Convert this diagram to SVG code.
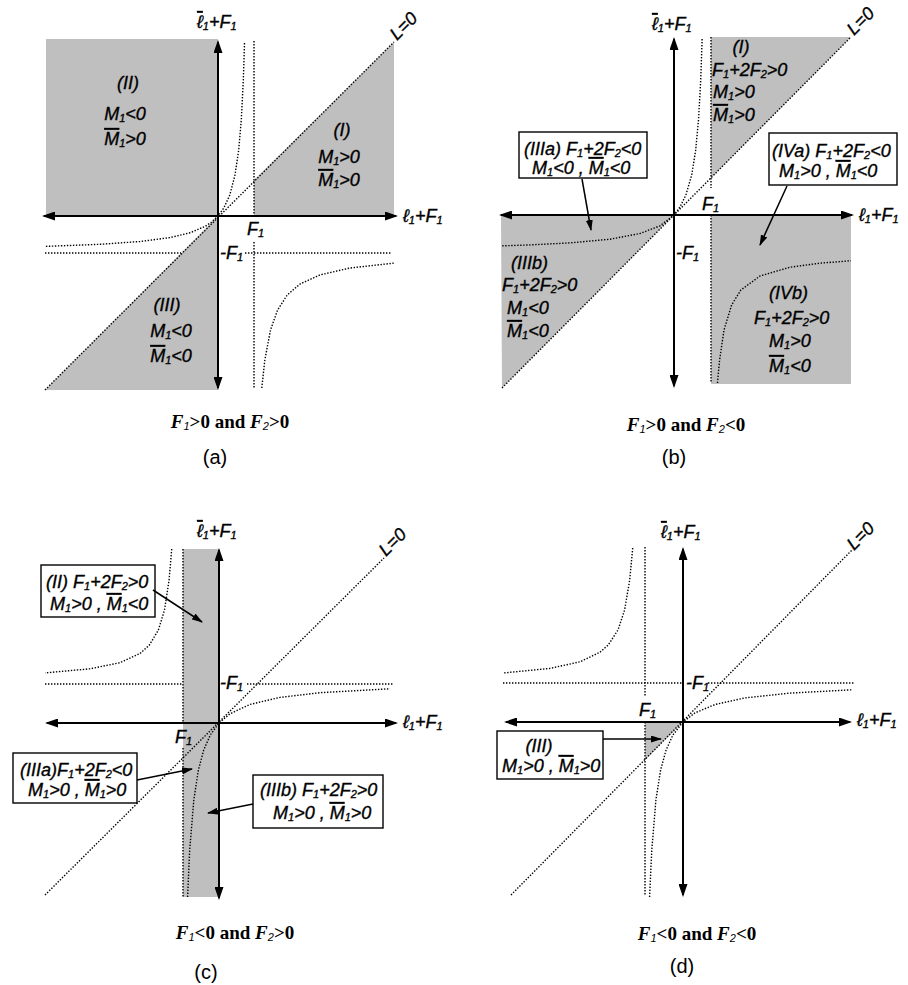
<svg xmlns="http://www.w3.org/2000/svg" width="908" height="985" viewBox="0 0 908 985">
<style>
.bg{fill:#fff}
.g{fill:#bfbfbf;stroke:none}
.ax{stroke:#000;stroke-width:2;fill:none;marker-start:url(#ah);marker-end:url(#ah)}
.d{stroke:#000;stroke-width:1.4;stroke-dasharray:1.4 1.6;fill:none}
.box{fill:#fff;stroke:#000;stroke-width:1.4}
.cn{stroke:#000;stroke-width:1.5;fill:none;marker-end:url(#sa)}
.t{font-family:"Liberation Sans",Arial,sans-serif;font-style:italic;font-size:18px;fill:#000;stroke:#000;stroke-width:0.35px}
.s{font-size:11px}
.o{text-decoration:overline}
.cap{font-family:"Liberation Serif","Times New Roman",serif;font-weight:bold;font-size:19px;fill:#000}
.ci{font-style:italic}
.cs{font-family:"Liberation Sans",Arial,sans-serif;font-style:italic;font-weight:normal;font-size:11px}
.pl{font-family:"Liberation Sans",Arial,sans-serif;font-size:20px;fill:#000}
</style>
<defs>
<marker id="ah" markerUnits="userSpaceOnUse" markerWidth="13" markerHeight="9" refX="11" refY="4.5" orient="auto-start-reverse"><path d="M0,0 L13,4.5 L0,9 z" fill="#000"/></marker>
<marker id="sa" markerUnits="userSpaceOnUse" markerWidth="11" markerHeight="7" refX="10" refY="3.5" orient="auto"><path d="M0,0 L11,3.5 L0,7 z" fill="#000"/></marker>
</defs>
<rect class="bg" x="0" y="0" width="908" height="985"/>

<!-- Panel (a) -->
<g id="panel-a">
  <g id="a-regions">
    <rect class="g" x="46" y="39" width="172" height="177"/>
    <polygon class="g" points="254,180 394,42 394,216 254,216"/>
    <polygon class="g" points="45,390 218,216 218,390"/>
  </g>
  <g id="a-curves">
    <line class="d" x1="45" y1="390" x2="394" y2="42"/>
    <line class="d" x1="254" y1="41" x2="254" y2="216"/>
    <line class="d" x1="254" y1="242" x2="254" y2="388"/>
    <line class="d" x1="45" y1="253" x2="181" y2="253"/>
    <line class="d" x1="245" y1="253" x2="391" y2="253"/>
    <polyline class="d" points="244.5,43 243.3,80 241.3,120 238.7,150 235,175 229.8,195 223.8,208 218,216 211,222.5 205,226.4 190,232.8 170,237.6 140,241.5 100,244.3 45,246.4"/>
    <polyline class="d" points="261.8,388 264.8,360 270.5,330 277.6,310 287.2,295 300,284 320,274.9 350,268 395,263"/>
  </g>
  <g id="a-axes">
    <line class="ax" x1="218" y1="42" x2="218" y2="388"/>
    <line class="ax" x1="44" y1="216" x2="396" y2="216"/>
  </g>
  <g id="a-labels">
    <text class="t" x="197" y="28"><tspan class="o">ℓ</tspan><tspan class="s" dy="2">1</tspan><tspan dy="-2">+F</tspan><tspan class="s" dy="2">1</tspan></text>
    <text class="t" transform="translate(397,41) rotate(-45)">L=0</text>
    <text class="t" x="403" y="222">ℓ<tspan class="s" dy="2">1</tspan><tspan dy="-2">+F</tspan><tspan class="s" dy="2">1</tspan></text>
    <text class="t" x="247" y="235">F<tspan class="s" dy="2">1</tspan></text>
    <text class="t" x="220" y="259">-F<tspan class="s" dy="2">1</tspan></text>
  </g>
  <g id="a-region-II">
    <text class="t" x="128" y="89" text-anchor="middle">(II)</text>
    <text class="t" x="125" y="120" text-anchor="middle">M<tspan class="s" dy="2">1</tspan><tspan dy="-2">&lt;0</tspan></text>
    <text class="t" x="125" y="145" text-anchor="middle"><tspan class="o">M</tspan><tspan class="s" dy="2">1</tspan><tspan dy="-2">&gt;0</tspan></text>
  </g>
  <g id="a-region-I">
    <text class="t" x="342" y="136" text-anchor="middle">(I)</text>
    <text class="t" x="339" y="163" text-anchor="middle">M<tspan class="s" dy="2">1</tspan><tspan dy="-2">&gt;0</tspan></text>
    <text class="t" x="339" y="186" text-anchor="middle"><tspan class="o">M</tspan><tspan class="s" dy="2">1</tspan><tspan dy="-2">&gt;0</tspan></text>
  </g>
  <g id="a-region-III">
    <text class="t" x="167" y="311" text-anchor="middle">(III)</text>
    <text class="t" x="171" y="337" text-anchor="middle">M<tspan class="s" dy="2">1</tspan><tspan dy="-2">&lt;0</tspan></text>
    <text class="t" x="171" y="362" text-anchor="middle"><tspan class="o">M</tspan><tspan class="s" dy="2">1</tspan><tspan dy="-2">&lt;0</tspan></text>
  </g>
  <text class="cap" x="230" y="428" text-anchor="middle"><tspan class="ci">F</tspan><tspan class="cs" dy="2">1</tspan><tspan dy="-2">&gt;0 and </tspan><tspan class="ci">F</tspan><tspan class="cs" dy="2">2</tspan><tspan dy="-2">&gt;0</tspan></text>
  <text class="pl" x="215" y="464" text-anchor="middle">(a)</text>
</g>

<!-- Panel (b) -->
<g id="panel-b">
  <g id="b-regions">
    <polygon class="g" points="711,37 851,37 711,178"/>
    <polygon class="g" points="501,215 674,215 502,388"/>
    <rect class="g" x="711" y="215" width="140" height="169"/>
  </g>
  <g id="b-curves">
    <line class="d" x1="502" y1="388" x2="851" y2="37"/>
    <line class="d" x1="711" y1="37" x2="711" y2="188"/>
    <line class="d" x1="711" y1="215" x2="711" y2="383"/>
    <polyline class="d" points="702.1,39 700.7,80 698.5,120 695.7,150 691.7,175 685.9,195 680,207 674,215 667,220.5 660,225.8 640,233.5 610,239.2 570,242.9 530,244.9 501,245.9"/>
    <polyline class="d" points="717.5,383 719.6,360 724,330 731.6,305 740.9,290 760,276 790,267.2 820,263.2 851,260.7"/>
  </g>
  <g id="b-axes">
    <line class="ax" x1="674" y1="39" x2="674" y2="386"/>
    <line class="ax" x1="501" y1="215" x2="852" y2="215"/>
  </g>
  <g id="b-labels">
    <text class="t" x="652" y="30"><tspan class="o">ℓ</tspan><tspan class="s" dy="2">1</tspan><tspan dy="-2">+F</tspan><tspan class="s" dy="2">1</tspan></text>
    <text class="t" transform="translate(854,36) rotate(-45)">L=0</text>
    <text class="t" x="859" y="221">ℓ<tspan class="s" dy="2">1</tspan><tspan dy="-2">+F</tspan><tspan class="s" dy="2">1</tspan></text>
    <text class="t" x="702" y="210">F<tspan class="s" dy="2">1</tspan></text>
    <text class="t" x="676" y="259">-F<tspan class="s" dy="2">1</tspan></text>
  </g>
  <g id="b-region-I">
    <text class="t" x="741" y="53" text-anchor="middle">(I)</text>
    <text class="t" x="712" y="76">F<tspan class="s" dy="2">1</tspan><tspan dy="-2">+2F</tspan><tspan class="s" dy="2">2</tspan><tspan dy="-2">&gt;0</tspan></text>
    <text class="t" x="713" y="98">M<tspan class="s" dy="2">1</tspan><tspan dy="-2">&gt;0</tspan></text>
    <text class="t" x="713" y="121"><tspan class="o">M</tspan><tspan class="s" dy="2">1</tspan><tspan dy="-2">&gt;0</tspan></text>
  </g>
  <g id="b-region-IIIa">
    <rect class="box" x="519" y="132" width="128" height="46"/>
    <text class="t" x="524" y="155">(IIIa) F<tspan class="s" dy="2">1</tspan><tspan dy="-2">+2F</tspan><tspan class="s" dy="2">2</tspan><tspan dy="-2">&lt;0</tspan></text>
    <text class="t" x="532" y="174">M<tspan class="s" dy="2">1</tspan><tspan dy="-2">&lt;0 , </tspan><tspan class="o">M</tspan><tspan class="s" dy="2">1</tspan><tspan dy="-2">&lt;0</tspan></text>
  </g>
  <g id="b-region-IVa">
    <rect class="box" x="769" y="133" width="128" height="52"/>
    <text class="t" x="772" y="157">(IVa) F<tspan class="s" dy="2">1</tspan><tspan dy="-2">+2F</tspan><tspan class="s" dy="2">2</tspan><tspan dy="-2">&lt;0</tspan></text>
    <text class="t" x="779" y="177">M<tspan class="s" dy="2">1</tspan><tspan dy="-2">&gt;0 , </tspan><tspan class="o">M</tspan><tspan class="s" dy="2">1</tspan><tspan dy="-2">&lt;0</tspan></text>
  </g>
  <g id="b-region-IIIb">
    <text class="t" x="511" y="269">(IIIb)</text>
    <text class="t" x="502" y="291">F<tspan class="s" dy="2">1</tspan><tspan dy="-2">+2F</tspan><tspan class="s" dy="2">2</tspan><tspan dy="-2">&gt;0</tspan></text>
    <text class="t" x="507" y="314">M<tspan class="s" dy="2">1</tspan><tspan dy="-2">&lt;0</tspan></text>
    <text class="t" x="507" y="337"><tspan class="o">M</tspan><tspan class="s" dy="2">1</tspan><tspan dy="-2">&lt;0</tspan></text>
  </g>
  <g id="b-region-IVb">
    <text class="t" x="769" y="299">(IVb)</text>
    <text class="t" x="754" y="324">F<tspan class="s" dy="2">1</tspan><tspan dy="-2">+2F</tspan><tspan class="s" dy="2">2</tspan><tspan dy="-2">&gt;0</tspan></text>
    <text class="t" x="769" y="347">M<tspan class="s" dy="2">1</tspan><tspan dy="-2">&gt;0</tspan></text>
    <text class="t" x="769" y="372"><tspan class="o">M</tspan><tspan class="s" dy="2">1</tspan><tspan dy="-2">&lt;0</tspan></text>
  </g>
  <text class="cap" x="686" y="431" text-anchor="middle"><tspan class="ci">F</tspan><tspan class="cs" dy="2">1</tspan><tspan dy="-2">&gt;0 and </tspan><tspan class="ci">F</tspan><tspan class="cs" dy="2">2</tspan><tspan dy="-2">&lt;0</tspan></text>
  <text class="pl" x="674" y="464" text-anchor="middle">(b)</text>
</g>

<!-- Panel (c) -->
<g id="panel-c">
  <g id="c-regions">
    <rect class="g" x="183" y="549" width="36" height="348"/>
  </g>
  <g id="c-curves">
    <line class="d" x1="45" y1="895" x2="384" y2="558"/>
    <line class="d" x1="183" y1="549" x2="183" y2="723"/>
    <line class="d" x1="183" y1="748" x2="183" y2="897"/>
    <line class="d" x1="45" y1="684" x2="183" y2="684"/>
    <line class="d" x1="247" y1="684" x2="393" y2="684"/>
    <polyline class="d" points="171.7,549 169.1,580 164.5,610 158.4,630 149.4,645 140,653.5 120,662.7 90,668.8 45,672.9"/>
    <polyline class="d" points="187.6,897 189.7,850 193.8,800 198.4,770 203.7,750 210.3,735 219,723 230,713.8 250,704.4 280,697.4 320,692.7 390,688.8"/>
  </g>
  <g id="c-axes">
    <line class="ax" x1="219" y1="550" x2="219" y2="898"/>
    <line class="ax" x1="47" y1="723" x2="396" y2="723"/>
  </g>
  <g id="c-labels">
    <text class="t" x="197" y="537"><tspan class="o">ℓ</tspan><tspan class="s" dy="2">1</tspan><tspan dy="-2">+F</tspan><tspan class="s" dy="2">1</tspan></text>
    <text class="t" transform="translate(386,557) rotate(-45)">L=0</text>
    <text class="t" x="403" y="728">ℓ<tspan class="s" dy="2">1</tspan><tspan dy="-2">+F</tspan><tspan class="s" dy="2">1</tspan></text>
    <text class="t" x="175" y="743">F<tspan class="s" dy="2">1</tspan></text>
    <text class="t" x="220" y="689">-F<tspan class="s" dy="2">1</tspan></text>
  </g>
  <g id="c-region-II">
    <rect class="box" x="41" y="565" width="114" height="52"/>
    <text class="t" x="46" y="588">(II) F<tspan class="s" dy="2">1</tspan><tspan dy="-2">+2F</tspan><tspan class="s" dy="2">2</tspan><tspan dy="-2">&gt;0</tspan></text>
    <text class="t" x="50" y="610">M<tspan class="s" dy="2">1</tspan><tspan dy="-2">&gt;0 , </tspan><tspan class="o">M</tspan><tspan class="s" dy="2">1</tspan><tspan dy="-2">&lt;0</tspan></text>
  </g>
  <g id="c-region-IIIa">
    <rect class="box" x="13" y="753" width="124" height="50"/>
    <text class="t" x="20" y="776">(IIIa)F<tspan class="s" dy="2">1</tspan><tspan dy="-2">+2F</tspan><tspan class="s" dy="2">2</tspan><tspan dy="-2">&lt;0</tspan></text>
    <text class="t" x="28" y="796">M<tspan class="s" dy="2">1</tspan><tspan dy="-2">&gt;0 , </tspan><tspan class="o">M</tspan><tspan class="s" dy="2">1</tspan><tspan dy="-2">&gt;0</tspan></text>
  </g>
  <g id="c-region-IIIb">
    <rect class="box" x="253" y="775" width="130" height="53"/>
    <text class="t" x="260" y="796">(IIIb) F<tspan class="s" dy="2">1</tspan><tspan dy="-2">+2F</tspan><tspan class="s" dy="2">2</tspan><tspan dy="-2">&gt;0</tspan></text>
    <text class="t" x="273" y="819">M<tspan class="s" dy="2">1</tspan><tspan dy="-2">&gt;0 , </tspan><tspan class="o">M</tspan><tspan class="s" dy="2">1</tspan><tspan dy="-2">&gt;0</tspan></text>
  </g>
  <text class="cap" x="235" y="939" text-anchor="middle"><tspan class="ci">F</tspan><tspan class="cs" dy="2">1</tspan><tspan dy="-2">&lt;0 and </tspan><tspan class="ci">F</tspan><tspan class="cs" dy="2">2</tspan><tspan dy="-2">&gt;0</tspan></text>
  <text class="pl" x="206" y="979" text-anchor="middle">(c)</text>
</g>

<!-- Panel (d) -->
<g id="panel-d">
  <g id="d-regions">
    <polygon class="g" points="645,722 683,722 645,760"/>
  </g>
  <g id="d-curves">
    <line class="d" x1="511" y1="895" x2="852" y2="550"/>
    <line class="d" x1="645" y1="547" x2="645" y2="697"/>
    <line class="d" x1="645" y1="722" x2="645" y2="896"/>
    <line class="d" x1="503" y1="683" x2="683" y2="683"/>
    <line class="d" x1="708" y1="683" x2="854" y2="683"/>
    <polyline class="d" points="632.7,548 629.7,580 624.6,610 618,630 608.2,645 600,652.2 580,661.8 550,668.4 504,672.9"/>
    <polyline class="d" points="649.6,897 651.8,850 655.9,800 660.6,770 666.1,750 672.9,735 683,722 695,712.9 715,704.5 745,697.9 790,693.1 852,689.8"/>
  </g>
  <g id="d-axes">
    <line class="ax" x1="683" y1="549" x2="683" y2="895"/>
    <line class="ax" x1="506" y1="722" x2="850" y2="722"/>
  </g>
  <g id="d-labels">
    <text class="t" x="661" y="538"><tspan class="o">ℓ</tspan><tspan class="s" dy="2">1</tspan><tspan dy="-2">+F</tspan><tspan class="s" dy="2">1</tspan></text>
    <text class="t" transform="translate(854,551) rotate(-45)">L=0</text>
    <text class="t" x="857" y="726">ℓ<tspan class="s" dy="2">1</tspan><tspan dy="-2">+F</tspan><tspan class="s" dy="2">1</tspan></text>
    <text class="t" x="639" y="716">F<tspan class="s" dy="2">1</tspan></text>
    <text class="t" x="686" y="689">-F<tspan class="s" dy="2">1</tspan></text>
  </g>
  <g id="d-region-III">
    <rect class="box" x="497" y="731" width="106" height="48"/>
    <text class="t" x="539" y="752" text-anchor="middle">(III)</text>
    <text class="t" x="502" y="772">M<tspan class="s" dy="2">1</tspan><tspan dy="-2">&gt;0 , </tspan><tspan class="o">M</tspan><tspan class="s" dy="2">1</tspan><tspan dy="-2">&gt;0</tspan></text>
  </g>
  <text class="cap" x="697" y="940" text-anchor="middle"><tspan class="ci">F</tspan><tspan class="cs" dy="2">1</tspan><tspan dy="-2">&lt;0 and </tspan><tspan class="ci">F</tspan><tspan class="cs" dy="2">2</tspan><tspan dy="-2">&lt;0</tspan></text>
  <text class="pl" x="682" y="973" text-anchor="middle">(d)</text>
</g>

<g id="connectors">
  <line class="cn" x1="582" y1="179" x2="591" y2="230"/>
  <line class="cn" x1="787" y1="186" x2="760" y2="245"/>
  <line class="cn" x1="153" y1="590" x2="202" y2="622"/>
  <line class="cn" x1="137" y1="780" x2="192" y2="769"/>
  <line class="cn" x1="253" y1="804" x2="208" y2="813"/>
  <line class="cn" x1="603" y1="739" x2="661" y2="739"/>
</g>
</svg>
